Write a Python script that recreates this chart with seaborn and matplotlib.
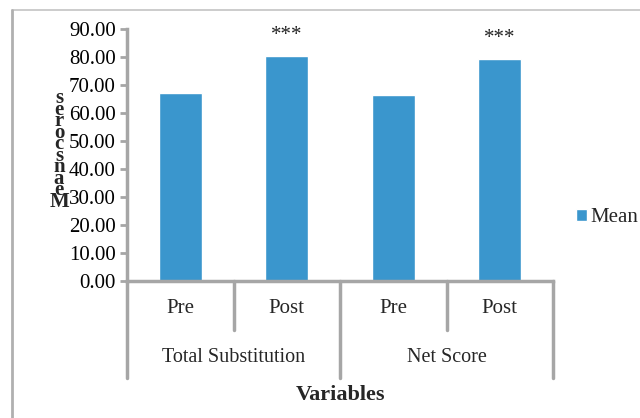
import matplotlib
matplotlib.use("Agg")
import matplotlib.pyplot as plt
import seaborn as sns
import pandas as pd
from matplotlib.lines import Line2D

# ---- data ----
groups = ["Total Substitution", "Total Substitution", "Net Score", "Net Score"]
phases = ["Pre", "Post", "Pre", "Post"]
means = [67.3, 80.2, 66.6, 79.4]
significance = ["", "***", "", "***"]
series_name = "Mean"
y_ticks = [0, 10, 20, 30, 40, 50, 60, 70, 80, 90]

bar_color = "#3A96CD"
axis_gray = "#A6A6A6"

sns.set_theme(style="white")
plt.rcParams["font.family"] = ["Liberation Serif", "DejaVu Serif"]

keys = [f"{g}|{p}" for g, p in zip(groups, phases)]
df = pd.DataFrame({"key": keys, "value": means, "series": series_name})

fig = plt.figure(figsize=(6.4, 4.18), dpi=100)
ax = fig.add_axes([127 / 640, 1 - 281 / 418, (553 - 127) / 640, (281 - 29) / 418])

sns.barplot(data=df, x="key", y="value", hue="series", palette={series_name: bar_color},
            width=0.40, ax=ax, saturation=1, legend=True)

ax.set_ylim(0, 90)
ax.set_xlim(-0.5, len(keys) - 0.5)
ax.set_yticks(y_ticks)
ax.set_yticklabels([f"{v:.2f}" for v in y_ticks], fontsize=15)
ax.set_xticks(range(len(keys)))
ax.set_xticklabels([])
ax.set_xlabel("")
ax.set_ylabel("")

for s in ["top", "right"]:
    ax.spines[s].set_visible(False)
for s in ["left", "bottom"]:
    ax.spines[s].set_color(axis_gray)
    ax.spines[s].set_linewidth(2.5)
ax.tick_params(axis="y", left=True, length=5, width=2, color=axis_gray, pad=3, labelcolor="black")
ax.tick_params(axis="x", bottom=False)

# significance stars
for i, (v, s) in enumerate(zip(means, significance)):
    if s:
        ax.text(i, v + 7.3, s, ha="center", va="center", fontsize=15, color="#222222")

# multi-level category axis
xt = ax.get_xaxis_transform()
for i, p in enumerate(phases):
    ax.text(i, -0.11, p, transform=xt, ha="center", va="center", fontsize=15)
# inner separators
for xs in [0.5, 2.5]:
    ax.plot([xs, xs], [0, -0.195], transform=xt, color=axis_gray, lw=2.5, clip_on=False)
# outer separators
for xs in [-0.5, 1.5, 3.5]:
    ax.plot([xs, xs], [0, -0.385], transform=xt, color=axis_gray, lw=2.5, clip_on=False)
seen = []
for i, g in enumerate(groups):
    if g in seen:
        continue
    seen.append(g)
    idx = [j for j, gg in enumerate(groups) if gg == g]
    ax.text(sum(idx) / len(idx), -0.305, g, transform=xt, ha="center", va="center", fontsize=14.5)

fig.text(340 / 640, 1 - 395 / 418, "Variables", ha="center", va="center",
         fontsize=16, fontweight="bold")

# stacked y label
ylab = "Mean scores"
stacked = "\n".join(reversed([c for c in ylab if c != " "]))
fig.text(59 / 640, 1 - 150 / 418, stacked, ha="center", va="center", fontsize=15,
         fontweight="bold", linespacing=0.43)

leg = ax.legend(loc="center left", bbox_to_anchor=(1.0, 0.25), frameon=False, fontsize=15,
                handlelength=0.55, handleheight=0.55, handletextpad=0.15, borderaxespad=0.0,
                borderpad=0.0)
leg.set_bbox_to_anchor((576 / 640, 1 - 218 / 418), transform=fig.transFigure)

# outer frame (top and left edges visible)
fig.lines.append(Line2D([12 / 640, 1.0], [1 - 10 / 418, 1 - 10 / 418], transform=fig.transFigure,
                        color="#C4C4C4", lw=1.2))
fig.lines.append(Line2D([12 / 640, 12 / 640], [0, 1 - 10 / 418], transform=fig.transFigure,
                        color="#B0B0B0", lw=2.0))

fig.savefig("out.png", dpi=100)
